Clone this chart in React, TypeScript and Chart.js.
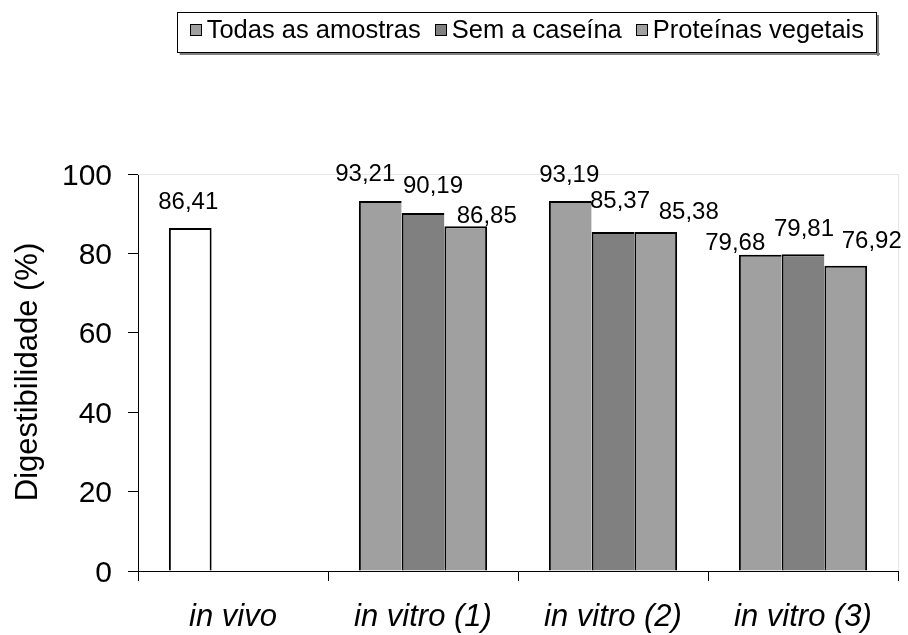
import React, { useEffect, useRef } from 'react';
import { Chart, registerables } from 'chart.js';

Chart.register(...registerables);

// ---- data ----
const categories = ['in vivo', 'in vitro (1)', 'in vitro (2)', 'in vitro (3)'];
const seriesNames = ['Todas as amostras', 'Sem a caseína', 'Proteínas vegetais'];
const todasValues: (number | null)[] = [86.41, 93.21, 93.19, 79.68];
const semCaseinaValues: (number | null)[] = [null, 90.19, 85.37, 79.81];
const proteinasValues: (number | null)[] = [null, 86.85, 85.38, 76.92];
const yTickValues = [0, 20, 40, 60, 80, 100];
const yTitle = 'Digestibilidade (%)';

// ---- styles ----
const seriesColors = ['#A0A0A0', '#808080', '#A0A0A0'];
const inVivoColor = '#FFFFFF';
const FONT = '"Liberation Sans", Arial, Helvetica, sans-serif';
// label nudges (px) relative to bar top-centre: [dx, dy] of label centre
const labelNudges: ([number, number] | null)[][] = [
  [[-2, -27], [-15, -28], [-1, -28], [-25, -13]],
  [null, [10, -28], [7, -33], [1, -27]],
  [null, [21, -12], [33, -22], [26, -26]],
];

function fmt(v: number) {
  return v.toFixed(2).replace('.', ',');
}

function drawText(
  ctx: CanvasRenderingContext2D,
  text: string,
  x: number,
  y: number,
  size: number,
  sx: number,
  align: CanvasTextAlign,
  style = '',
  rot = 0
) {
  ctx.save();
  ctx.font = `${style} ${size}px ${FONT}`.trim();
  ctx.fillStyle = '#000';
  ctx.textBaseline = 'alphabetic';
  ctx.textAlign = align;
  ctx.translate(x, y);
  if (rot) ctx.rotate(rot);
  ctx.scale(sx, 1);
  ctx.fillText(text, 0, 0);
  ctx.restore();
}

const decorPlugin = {
  id: 'decor',
  beforeDatasetsDraw(chart: any) {
    const { ctx, chartArea } = chart;
    ctx.save();
    ctx.strokeStyle = '#E6E6E6';
    ctx.lineWidth = 1;
    ctx.beginPath();
    ctx.moveTo(chartArea.left, Math.round(chartArea.top) + 0.5);
    ctx.lineTo(Math.round(chartArea.right) + 0.5, Math.round(chartArea.top) + 0.5);
    ctx.lineTo(Math.round(chartArea.right) + 0.5, chartArea.bottom);
    ctx.stroke();
    ctx.restore();
  },
  afterDraw(chart: any) {
    const { ctx, chartArea } = chart;
    const yScale = chart.scales.y;
    const xScale = chart.scales.x;

    // y tick labels
    yTickValues.forEach((v) => {
      const py = yScale.getPixelForValue(v);
      drawText(ctx, String(v), chartArea.left - 26, py + 10.5, 30, 1, 'right');
    });

    // x category labels
    categories.forEach((c, i) => {
      const px = xScale.getPixelForValue(i);
      drawText(ctx, c, px, chartArea.bottom + 55, 31, 1, 'center', 'italic');
    });

    // y title
    drawText(ctx, yTitle, 37, (chartArea.top + chartArea.bottom) / 2 - 0.5, 31, 1, 'center', '', -Math.PI / 2);

    // data labels
    chart.data.datasets.forEach((ds: any, di: number) => {
      const meta = chart.getDatasetMeta(di);
      meta.data.forEach((bar: any, j: number) => {
        const v = ds.data[j];
        if (v === null || v === undefined) return;
        const nudge = labelNudges[di][j] || [0, -27];
        drawText(ctx, fmt(v), bar.x + nudge[0], bar.y + nudge[1] + 8.5, 24, 1, 'center');
      });
    });

    // legend
    const lSize = 25.5;
    const lsx = 1;
    ctx.save();
    ctx.font = `${lSize}px ${FONT}`;
    const widths = seriesNames.map((n) => ctx.measureText(n).width * lsx);
    ctx.restore();
    const sq = 12;
    const sqGap = 5;
    const itemGap = 14;
    const pad = 13;
    const total = pad * 2 + widths.reduce((a, b) => a + b, 0) + seriesNames.length * (sq + sqGap) + itemGap * (seriesNames.length - 1);
    const boxRight = 877;
    const boxTop = 12;
    const boxH = 41;
    const boxLeft = boxRight - total;
    ctx.save();
    ctx.fillStyle = '#808080';
    ctx.fillRect(boxLeft + 3, boxTop + boxH, total, 2);
    ctx.fillRect(boxRight, boxTop + 3, 2, boxH);
    ctx.fillStyle = '#FFFFFF';
    ctx.fillRect(boxLeft, boxTop, total, boxH);
    ctx.strokeStyle = '#000';
    ctx.lineWidth = 1;
    ctx.strokeRect(Math.round(boxLeft) + 0.5, boxTop + 0.5, Math.round(total) - 1, boxH - 1);
    let cx = boxLeft + pad;
    seriesNames.forEach((n, i) => {
      ctx.fillStyle = seriesColors[i];
      ctx.fillRect(Math.round(cx), 24, sq, sq);
      ctx.strokeStyle = '#000';
      ctx.strokeRect(Math.round(cx) + 0.5, 24.5, sq - 1, sq - 1);
      cx += sq + sqGap;
      drawText(ctx, n, cx, 37.5, lSize, lsx, 'left');
      cx += widths[i] + itemGap;
    });
    ctx.restore();
  },
};

export default function App() {
  const canvasRef = useRef<HTMLCanvasElement | null>(null);

  useEffect(() => {
    document.body.style.margin = '0';
    const canvas = canvasRef.current;
    if (!canvas) return;
    const barBorder = (c: any) => ({
      top: 2,
      left: 2,
      right: c.datasetIndex === 2 || c.dataIndex === 0 ? 2 : 0,
      bottom: 0,
    });
    const mk = (i: number, data: (number | null)[], bg: any) => ({
      label: seriesNames[i],
      data,
      backgroundColor: bg,
      borderColor: '#000',
      borderWidth: barBorder,
      borderSkipped: false,
    });
    const chart = new Chart(canvas, {
      type: 'bar',
      data: {
        labels: categories,
        datasets: [
          mk(0, todasValues, todasValues.map((_, i) => (i === 0 ? inVivoColor : seriesColors[0]))),
          mk(1, semCaseinaValues, seriesColors[1]),
          mk(2, proteinasValues, seriesColors[2]),
        ],
      },
      options: {
        responsive: false,
        animation: false,
        devicePixelRatio: 1,
        layout: { padding: { left: 0, right: 10, top: 174, bottom: 0 } },
        datasets: { bar: { categoryPercentage: 0.675, barPercentage: 1.0 } },
        plugins: {
          legend: { display: false },
          tooltip: { enabled: false },
          title: { display: false },
        },
        scales: {
          x: {
            type: 'category',
            ticks: { display: false },
            grid: {
              offset: true,
              drawOnChartArea: false,
              drawTicks: true,
              tickLength: 10,
              color: '#000',
              lineWidth: 1,
            },
            border: { display: true, color: '#000', width: 1 },
            afterFit: (s: any) => {
              s.height = 64;
            },
          },
          y: {
            min: 0,
            max: 100,
            ticks: { display: false, stepSize: 20 },
            grid: {
              drawOnChartArea: false,
              drawTicks: true,
              tickLength: 10,
              color: '#000',
              lineWidth: 1,
            },
            border: { display: true, color: '#000', width: 1 },
            afterFit: (s: any) => {
              s.width = 138;
            },
          },
        },
      } as any,
      plugins: [decorPlugin],
    });
    return () => chart.destroy();
  }, []);

  return (
    <div style={{ position: 'absolute', left: 0, top: 0, width: 908, height: 635, background: '#fff' }}>
      <canvas ref={canvasRef} width={908} height={635} />
    </div>
  );
}
